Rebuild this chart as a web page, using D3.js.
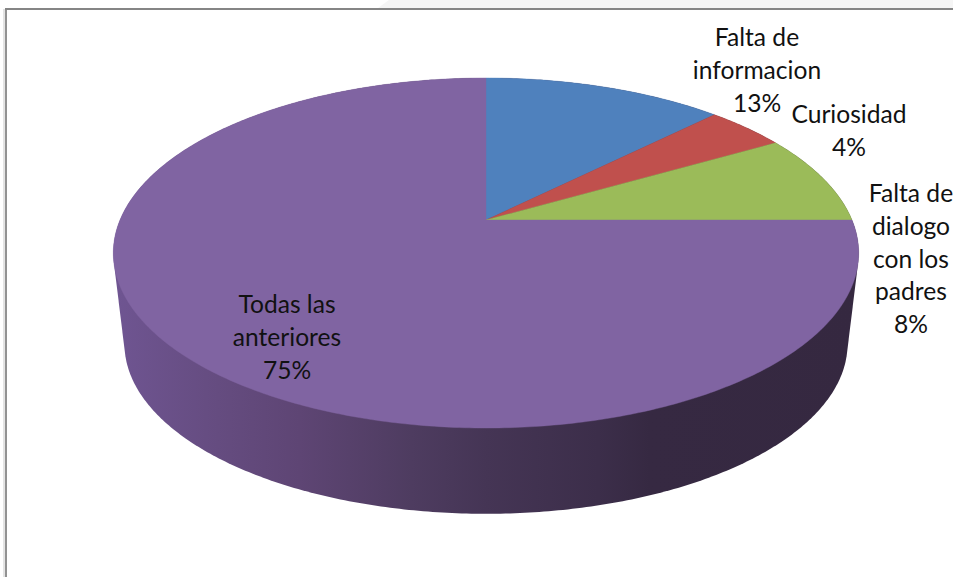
<!DOCTYPE html>
<html>
<head>
<meta charset="utf-8">
<script src="https://cdn.jsdelivr.net/npm/d3@7"></script>
<style>
  html, body { margin: 0; padding: 0; background: #fff; overflow: hidden; }
  svg { display: block; }
  text { font-family: Lato, "Open Sans", sans-serif; font-size: 24.6px; fill: #111; }
</style>
</head>
<body>
<svg id="chartSVG" width="953" height="577"></svg>
<script>
// answers behind the percentages (13%, 4%, 8%, 75% = 3, 1, 2, 18 out of 24)
var categories = [
    ["Falta de", "informacion"],
    ["Curiosidad"],
    ["Falta de", "dialogo", "con los", "padres"],
    ["Todas las", "anteriores"]
];
var values = [3, 1, 2, 18];
var colors = ["#4f81bd", "#c0504d", "#9bbb59", "#8064a2"];

// where each label block starts: center x, y of first line
var labelAnchors = [[757, 46], [849, 123], [911, 202], [287, 313]];

var width = 953;
var height = 577;
var lineGap = 32.8;

var svg = d3.select("#chartSVG");

// page background bits above the chart frame
svg.append("path")
    .attr("d", "M378,8 L389,0 L953,0 L953,8 Z")
    .attr("fill", "#f5f5f5");
svg.append("rect").attr("x", 3).attr("y", 9).attr("width", 2).attr("height", height)
    .attr("fill", "#e4e4e4");
svg.append("rect").attr("x", 5).attr("y", 8).attr("width", 2).attr("height", height)
    .attr("fill", "#929292");
svg.append("rect").attr("x", 5).attr("y", 8).attr("width", width).attr("height", 2)
    .attr("fill", "#858585");

//perspective of the tilted disc
var tilt = 0.1886;
var xScale = d3.scaleLinear().domain([-1, 1]).range([120, 852]);
var yScale = d3.scaleLinear().domain([-1, 1]).range([388.8, 51.2]);

// angle -> top face point
function topPoint(a) {
    var w = 1 + tilt * Math.cos(a);
    return [xScale(Math.sin(a) / w), yScale(Math.cos(a) / w)];
}

// bottom disc is the top one pushed down and a bit smaller
function basePoint(a) {
    var p = topPoint(a);
    return [486 + 0.97 * (p[0] - 486), 344 + 0.97 * (p[1] - 253)];
}

var pie = d3.pie().sort(null).value(function(d){ return d; });
var slices = pie(values);
var total = d3.sum(values);

var line = d3.line();

function sampleAngles(a0, a1) {
    var n = Math.max(2, Math.ceil((a1 - a0) * 90));
    return d3.range(n + 1).map(function(i){ return a0 + (a1 - a0) * i / n; });
}

// side wall gradient
var grad = svg.append("defs").append("linearGradient")
    .attr("id", "wall")
    .attr("gradientUnits", "userSpaceOnUse")
    .attr("x1", 113).attr("x2", 859).attr("y1", 0).attr("y2", 0);
[[0, "#6f5592"], [0.14, "#654c80"], [0.25, "#5e4574"], [0.4, "#4e3c60"], [0.5, "#453555"],
 [0.65, "#3c2e4a"], [0.72, "#362942"], [1, "#352840"]].forEach(function(s){
    grad.append("stop").attr("offset", s[0]).attr("stop-color", s[1]);
});

var ring = sampleAngles(0, 2 * Math.PI);
var hull = d3.polygonHull(ring.map(topPoint).concat(ring.map(basePoint)));

svg.append("path")
    .attr("class", "wall")
    .attr("d", line(hull) + "Z")
    .attr("fill", "url(#wall)");

// top face
svg.selectAll(".slice")
    .data(slices).enter()
    .append("path")
    .attr("class", "slice")
    .attr("fill", function(d, i){ return colors[i]; })
    .attr("stroke", function(d, i){ return colors[i]; })
    .attr("stroke-width", 0.4)
    .attr("d", function(d){
        var pts = sampleAngles(d.startAngle, d.endAngle).map(topPoint);
        return line([[xScale(0), yScale(0)]].concat(pts)) + "Z";
    });

// labels
var labels = svg.selectAll(".label")
    .data(slices).enter()
    .append("text")
    .attr("class", "label")
    .attr("text-anchor", "middle");

labels.each(function(d, i){
    var rows = categories[i].concat([Math.round(d.value / total * 100) + "%"]);
    d3.select(this).selectAll("tspan")
        .data(rows).enter()
        .append("tspan")
        .attr("x", labelAnchors[i][0])
        .attr("y", function(r, j){ return labelAnchors[i][1] + j * lineGap; })
        .text(function(r){ return r; });
});
</script>
</body>
</html>
